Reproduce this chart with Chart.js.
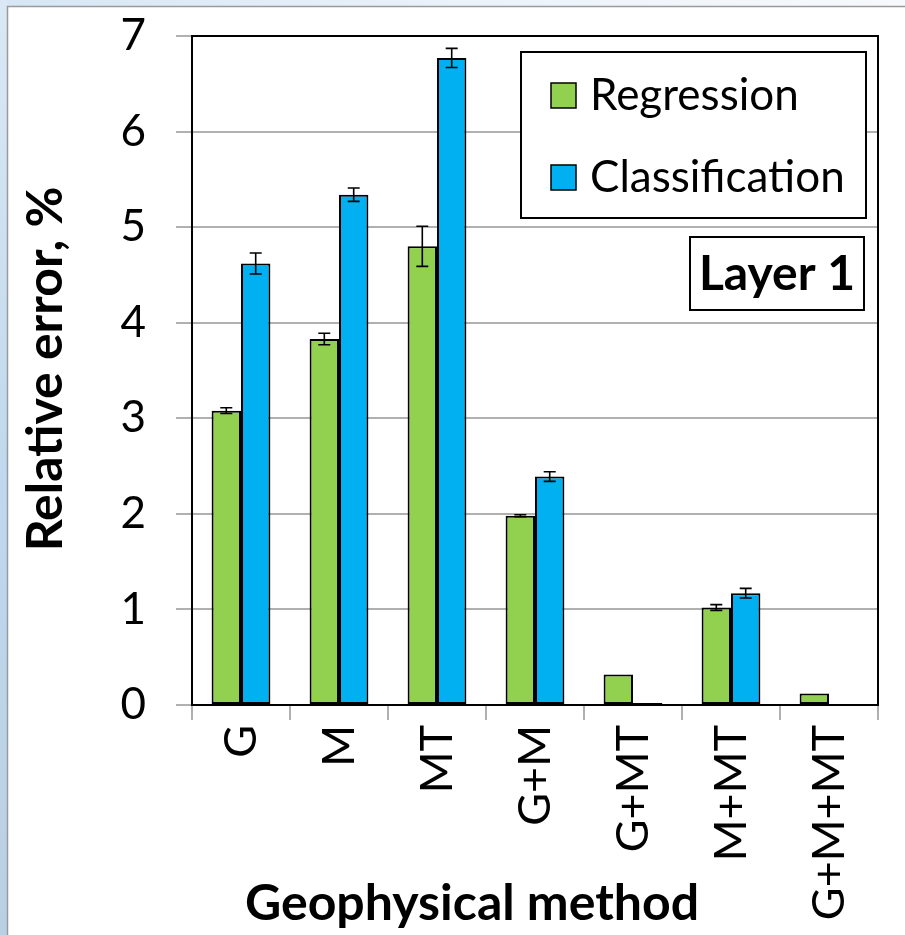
<!DOCTYPE html>
<html>
<head>
<meta charset="utf-8">
<script src="https://cdn.jsdelivr.net/npm/chart.js@4"></script>
<style>
  html, body { margin: 0; padding: 0; background: #fff; }
  #wrap { width: 905px; height: 935px; position: relative; }
</style>
</head>
<body>
<div id="wrap"><canvas id="c"></canvas></div>
<script>
// ---- data ----
const categories = ["G", "M", "MT", "G+M", "G+MT", "M+MT", "G+M+MT"];
const regression = [3.08, 3.83, 4.80, 1.98, 0.32, 1.02, 0.12];
const regressionErr = [0.03, 0.06, 0.21, 0.01, 0, 0.03, 0];
const classification = [4.62, 5.34, 6.77, 2.39, 0.02, 1.17, 0.01];
const classificationErr = [0.11, 0.07, 0.10, 0.05, 0, 0.05, 0];
const seriesNames = ["Regression", "Classification"];
const yTicks = [0, 1, 2, 3, 4, 5, 6, 7];
const yTitle = "Relative error, %";
const xTitle = "Geophysical method";
const badge = "Layer 1";

const GREEN = "#92D050", BLUE = "#00B0F0";
const FONT = "Lato, 'Open Sans', sans-serif";

const bgPlugin = {
  id: "bg",
  beforeDraw(chart) {
    const ctx = chart.ctx, W = chart.width, H = chart.height;
    ctx.save();
    let g = ctx.createLinearGradient(0, 0, W, 0);
    g.addColorStop(0, "#d6e6f4"); g.addColorStop(0.5, "#eaf2fa"); g.addColorStop(1, "#f7f9fc");
    ctx.fillStyle = g; ctx.fillRect(0, 0, W, 6);
    g = ctx.createLinearGradient(0, 0, 0, H);
    g.addColorStop(0, "#dbe8f5"); g.addColorStop(0.5, "#c0d9ee"); g.addColorStop(1, "#b9cfe4");
    ctx.fillStyle = g; ctx.fillRect(0, 0, 7, H);
    ctx.fillStyle = "#ffffff"; ctx.fillRect(8, 7, W - 8, H - 7);
    ctx.strokeStyle = "#9a9a9a"; ctx.lineWidth = 1.5;
    ctx.beginPath(); ctx.moveTo(7.5, H); ctx.lineTo(7.5, 6.5); ctx.lineTo(W, 6.5); ctx.stroke();
    ctx.restore();
  }
};

const framePlugin = {
  id: "frame",
  afterDatasetsDraw(chart) {
    const ctx = chart.ctx, a = chart.chartArea;
    ctx.save();
    ctx.strokeStyle = "#000"; ctx.lineWidth = 2;
    ctx.strokeRect(a.left, a.top, a.right - a.left, a.bottom - a.top);
    ctx.restore();
  }
};

const errorPlugin = {
  id: "errbars",
  afterDatasetsDraw(chart) {
    const ctx = chart.ctx, ys = chart.scales.y;
    ctx.save();
    ctx.strokeStyle = "#000"; ctx.lineWidth = 1.6;
    chart.data.datasets.forEach((ds, di) => {
      const meta = chart.getDatasetMeta(di);
      meta.data.forEach((bar, i) => {
        const v = ds.data[i], e = ds.errors[i];
        if (!e) return;
        const yt = ys.getPixelForValue(v + e), yb = ys.getPixelForValue(v - e);
        const x = bar.x, c = 6;
        ctx.beginPath();
        ctx.moveTo(x, yt); ctx.lineTo(x, yb);
        ctx.moveTo(x - c, yt); ctx.lineTo(x + c, yt);
        ctx.moveTo(x - c, yb); ctx.lineTo(x + c, yb);
        ctx.stroke();
      });
    });
    ctx.restore();
  }
};

const textPlugin = {
  id: "texts",
  afterDraw(chart) {
    const ctx = chart.ctx;
    ctx.save();
    ctx.fillStyle = "#000";
    // axis titles
    ctx.font = "bold 50px " + FONT;
    ctx.textAlign = "center"; ctx.textBaseline = "middle";
    ctx.save(); ctx.translate(46, 369); ctx.rotate(-Math.PI / 2); ctx.fillText(yTitle, 0, 0); ctx.restore();
    ctx.font = "bold 50px " + FONT;
    ctx.fillText(xTitle, 472, 904);
    // legend box
    ctx.fillStyle = "#fff"; ctx.fillRect(521, 52, 345, 166);
    ctx.strokeStyle = "#000"; ctx.lineWidth = 2;
    ctx.strokeRect(521, 52, 345, 166);
    ctx.font = "44px " + FONT; ctx.textAlign = "left";
    const ys = [95, 177];
    chart.data.datasets.forEach((ds, i) => {
      ctx.fillStyle = ds.backgroundColor;
      ctx.fillRect(551, ys[i] - 12, 25, 25);
      ctx.lineWidth = 1.5; ctx.strokeStyle = "#000";
      ctx.strokeRect(551, ys[i] - 12, 25, 25);
      ctx.fillStyle = "#000";
      ctx.fillText(ds.label, 590, ys[i] + 1);
    });
    // badge
    ctx.fillStyle = "#fff"; ctx.fillRect(690, 237, 174, 73);
    ctx.lineWidth = 2; ctx.strokeRect(690, 237, 174, 73);
    ctx.fillStyle = "#000"; ctx.font = "bold 48px " + FONT; ctx.textAlign = "center";
    ctx.fillText(badge, 777, 275);
    ctx.restore();
  }
};

new Chart(document.getElementById("c"), {
  type: "bar",
  data: {
    labels: categories,
    datasets: [
      { label: seriesNames[0], data: regression, errors: regressionErr, backgroundColor: GREEN,
        borderColor: "#000", borderWidth: 2, borderSkipped: false },
      { label: seriesNames[1], data: classification, errors: classificationErr, backgroundColor: BLUE,
        borderColor: "#000", borderWidth: 2, borderSkipped: false }
    ]
  },
  options: {
    responsive: true, maintainAspectRatio: false, animation: false,
    layout: { padding: { left: 0, right: 27, top: 36, bottom: 0 } },
    datasets: { bar: { categoryPercentage: 0.6, barPercentage: 1.0 } },
    plugins: { legend: { display: false }, tooltip: { enabled: false } },
    scales: {
      x: {
        grid: { offset: true, drawOnChartArea: false, drawTicks: true, tickLength: 15, color: "#b0b0b0", lineWidth: 2 },
        border: { color: "#000", width: 2 },
        ticks: { autoSkip: false, minRotation: 90, maxRotation: 90, padding: 5, color: "#000",
                 font: { family: FONT, size: 45 } },
        afterFit(s) { s.height = 230; s.paddingTop = 0; s.paddingBottom = 0; s.paddingLeft = 0; s.paddingRight = 0; }
      },
      y: {
        min: 0, max: 7,
        afterBuildTicks(s) { s.ticks = yTicks.map(v => ({ value: v })); },
        grid: { color: "#b0b0b0", lineWidth: 2, tickLength: 16 },
        border: { color: "#000", width: 2 },
        ticks: { padding: 30, color: "#000", font: { family: FONT, size: 44 } },
        afterFit(s) { s.width = 192; s.paddingTop = 0; s.paddingBottom = 0; }
      }
    }
  },
  plugins: [bgPlugin, errorPlugin, framePlugin, textPlugin]
});
</script>
</body>
</html>
